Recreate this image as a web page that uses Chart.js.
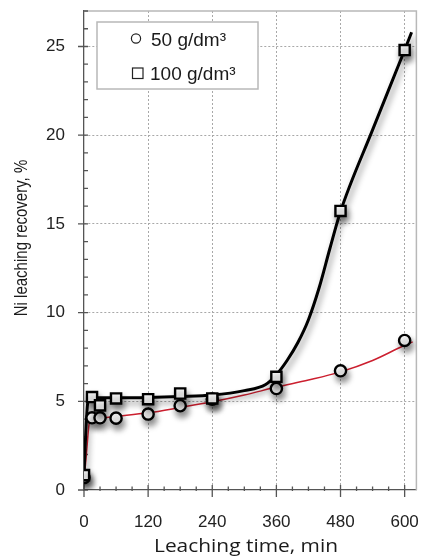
<!DOCTYPE html>
<html>
<head>
<meta charset="utf-8">
<script src="https://cdn.jsdelivr.net/npm/chart.js@4.4.1/dist/chart.umd.min.js"></script>
<style>
    html, body { margin: 0; padding: 0; background: #ffffff; overflow: hidden; }
    #wrap { width: 426px; height: 556px; position: relative; }
    #leachChart { display: block; }
</style>
</head>
<body>
<div id="wrap"><canvas id="leachChart"></canvas></div>
<script>
// measured points
const sampleTimes = [0, 15, 30, 60, 120, 180, 240, 360, 480, 600];
const recovery50 = [0.7, 4.07, 4.07, 4.05, 4.28, 4.75, 5.12, 5.72, 6.72, 8.43];
const recovery100 = [0.84, 5.24, 4.77, 5.16, 5.12, 5.44, 5.16, 6.38, 15.73, 24.8];

// trend lines
const fit50Times = [0, 5, 10, 15, 30, 60, 120, 180, 240, 300, 360, 420, 480, 540, 600, 615];
const fit50Values = [0.5, 2.2, 3.8, 3.97, 4.05, 4.15, 4.35, 4.65, 4.97, 5.35, 5.8, 6.2, 6.66, 7.3, 8.16, 8.35];
const fit100Times = [0, 3, 7, 15, 30, 60, 120, 180, 240, 300, 340, 360, 380, 400, 420, 440, 460, 480, 540, 600, 613];
const fit100Values = [0.8, 3.0, 4.9, 5.22, 5.2, 5.2, 5.22, 5.27, 5.35, 5.6, 5.95, 6.5, 7.3, 8.3, 9.6, 11.4, 13.6, 15.7, 20.3, 24.8, 25.8];

const seriesLabels = ["50 g/dm³", "100 g/dm³"];
const xTickLabels = [0, 120, 240, 360, 480, 600];
const xMinorTicks = [0, 30, 60, 90, 120, 150, 180, 210, 240, 270, 300, 330, 360, 390, 420, 450, 480, 510, 540, 570, 600];
const yTickLabels = [0, 5, 10, 15, 20, 25];

const xTitle = "Leaching time, min";
const yTitle = "Ni leaching recovery, %";

const tickFont = "'Liberation Sans', Arial, sans-serif";

function toPoints(xs, ys) {
    return xs.map((x, i) => ({ x, y: ys[i] }));
}

// no extra room for the half labels at the ends
function fixAxis(scale, size) {
    if (scale.isHorizontal()) scale.height = size;
    else scale.width = size;
    scale.paddingTop = 0;
    scale.paddingBottom = 0;
    scale.paddingLeft = 0;
    scale.paddingRight = 0;
}

// soft drop shadow under markers and the black curve
const shadowPlugin = {
    id: "shadow",
    beforeDatasetDraw(chart, args) {
        const ds = chart.data.datasets[args.index];
        if (!ds.shadow) return;
        const ctx = chart.ctx;
        ctx.save();
        ctx.shadowColor = "rgba(0, 0, 0, 0.45)";
        ctx.shadowBlur = 6;
        ctx.shadowOffsetX = 2;
        ctx.shadowOffsetY = 5;
    },
    afterDatasetDraw(chart, args) {
        const ds = chart.data.datasets[args.index];
        if (!ds.shadow) return;
        chart.ctx.restore();
    }
};

// frame, tick marks (major + minor), axis titles and legend box
const framePlugin = {
    id: "frame",
    beforeDatasetsDraw(chart) {
        const { ctx, chartArea: a, scales } = chart;
        ctx.save();
        ctx.strokeStyle = "#b8b8b8";
        ctx.lineWidth = 1.5;
        ctx.beginPath();
        ctx.moveTo(a.left, a.top);
        ctx.lineTo(a.right, a.top);
        ctx.lineTo(a.right, a.bottom);
        ctx.stroke();

        ctx.strokeStyle = "#555555";
        ctx.lineWidth = 1.3;
        ctx.beginPath();
        scales.x.ticks.forEach((t) => {
            const px = scales.x.getPixelForValue(t.value);
            const major = xTickLabels.includes(t.value);
            ctx.moveTo(px, a.bottom - (major ? 5 : 3.5));
            ctx.lineTo(px, a.bottom + (major ? 7 : 1));
        });
        scales.y.ticks.forEach((t) => {
            const py = scales.y.getPixelForValue(t.value);
            const major = yTickLabels.includes(t.value);
            ctx.moveTo(a.left - (major ? 6 : 0), py);
            ctx.lineTo(a.left + 4, py);
        });
        ctx.stroke();

        ctx.fillStyle = "#1a1a1a";
        ctx.textAlign = "center";
        ctx.textBaseline = "alphabetic";

        ctx.save();
        ctx.translate(246, 552);
        ctx.scale(1.1, 1);
        ctx.font = "19px 'Open Sans', sans-serif";
        ctx.fillText(xTitle, 0, 0);
        ctx.restore();

        ctx.save();
        ctx.translate(27, 238);
        ctx.rotate(-Math.PI / 2);
        ctx.scale(0.79, 1);
        ctx.font = "19px 'Liberation Sans', Arial, sans-serif";
        ctx.fillText(yTitle, 0, 0);
        ctx.restore();
        ctx.restore();
    },
    afterDraw(chart) {
        const ctx = chart.ctx;
        ctx.save();
        ctx.fillStyle = "#ffffff";
        ctx.strokeStyle = "#b8b8b8";
        ctx.lineWidth = 1.5;
        ctx.fillRect(97, 22, 161, 67);
        ctx.strokeRect(97, 22, 161, 67);

        ctx.strokeStyle = "#222222";
        ctx.lineWidth = 1.2;
        ctx.beginPath();
        ctx.arc(136, 38.5, 4.6, 0, Math.PI * 2);
        ctx.stroke();
        ctx.strokeRect(132.5, 68, 10.5, 10.5);

        ctx.fillStyle = "#1a1a1a";
        ctx.font = "19px 'Liberation Sans', Arial, sans-serif";
        ctx.textAlign = "left";
        ctx.textBaseline = "alphabetic";
        ctx.fillText(seriesLabels[0], 151, 46);
        ctx.fillText(seriesLabels[1], 150, 80);
        ctx.restore();
    }
};

const chart = new Chart(document.getElementById("leachChart"), {
    type: "scatter",
    data: {
        datasets: [
            {
                label: seriesLabels[1],
                data: toPoints(sampleTimes, recovery100),
                showLine: false,
                pointStyle: "rect",
                pointRadius: 7.2,
                pointBorderWidth: 2.4,
                pointBackgroundColor: "#ffffff",
                pointBorderColor: "#000000",
                shadow: true
            },
            {
                label: seriesLabels[0],
                data: toPoints(sampleTimes, recovery50),
                showLine: false,
                pointStyle: "circle",
                pointRadius: 5.6,
                pointBorderWidth: 2.4,
                pointBackgroundColor: "#ffffff",
                pointBorderColor: "#000000",
                shadow: true
            },
            {
                label: "fit 100",
                data: toPoints(fit100Times, fit100Values),
                showLine: true,
                pointRadius: 0,
                borderColor: "#000000",
                borderWidth: 3,
                cubicInterpolationMode: "monotone",
                shadow: true
            },
            {
                label: "fit 50",
                data: toPoints(fit50Times, fit50Values),
                showLine: true,
                pointRadius: 0,
                borderColor: "#cc1f2f",
                borderWidth: 1.5,
                cubicInterpolationMode: "monotone"
            }
        ]
    },
    options: {
        responsive: true,
        maintainAspectRatio: false,
        animation: false,
        layout: { padding: { top: 11, right: 1, left: 0, bottom: 0 } },
        plugins: {
            legend: { display: false },
            tooltip: { enabled: false }
        },
        scales: {
            x: {
                type: "linear",
                min: 0,
                max: 622,
                // chart.js keeps ~4px on the right, so the axis ends a bit short of 630
                afterBuildTicks(scale) {
                    scale.ticks = xMinorTicks.map((value) => ({ value }));
                },
                afterFit(scale) { fixAxis(scale, 66); },
                border: { color: "#555555", width: 1.3, dash: [2, 2] },
                grid: {
                    drawTicks: false,
                    lineWidth: 1,
                    color(ctx) {
                        const v = ctx.tick && ctx.tick.value;
                        return v > 0 && xTickLabels.includes(v) ? "#a8a8a8" : "transparent";
                    }
                },
                ticks: {
                    autoSkip: false,
                    maxRotation: 0,
                    padding: 22,
                    color: "#222222",
                    font: { family: tickFont, size: 17 },
                    callback(value) {
                        return xTickLabels.includes(value) ? String(value) : "";
                    }
                }
            },
            y: {
                type: "linear",
                min: 0,
                max: 27,
                afterFit(scale) { fixAxis(scale, 84); },
                border: { color: "#555555", width: 1.3, dash: [2, 2] },
                grid: {
                    drawTicks: false,
                    lineWidth: 1,
                    color(ctx) {
                        const v = ctx.tick && ctx.tick.value;
                        return v > 0 && yTickLabels.includes(v) ? "#a8a8a8" : "transparent";
                    }
                },
                ticks: {
                    stepSize: 1,
                    autoSkip: false,
                    padding: 19,
                    color: "#222222",
                    font: { family: tickFont, size: 17 },
                    callback(value) {
                        return yTickLabels.includes(value) ? String(value) : "";
                    }
                }
            }
        }
    },
    plugins: [shadowPlugin, framePlugin]
});
</script>
</body>
</html>
